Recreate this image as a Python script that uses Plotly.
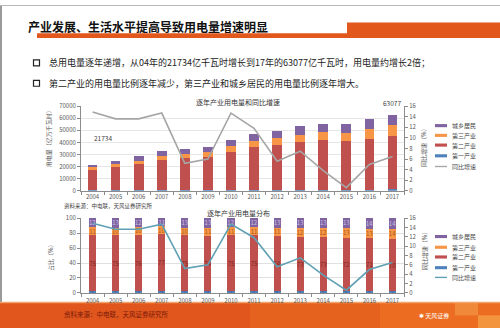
import plotly.graph_objects as go

# ---------------- data ----------------
years = [str(y) for y in range(2004, 2018)]

# electricity use by sector (亿千瓦时)
primary_use = [810, 850, 830, 880, 880, 940, 980, 1010, 1010, 1010, 990, 1020, 1080, 1160]
secondary_use = [16260, 18480, 21370, 24630, 25920, 27090, 31320, 35190, 36670, 39140, 40650, 40050, 42110, 44410]
tertiary_use = [2310, 2470, 2820, 3180, 3500, 3940, 4500, 5080, 5690, 6270, 6660, 7160, 7960, 8810]
resident_use = [2354, 3140, 3568, 4022, 4241, 4625, 5123, 5648, 6221, 6803, 6933, 7270, 8048, 8697]

# year-on-year growth of total use (%)
growth = [14.9, 13.6, 13.6, 14.7, 5.2, 6.0, 14.7, 11.8, 5.6, 7.5, 3.8, 0.6, 5.0, 6.5]

# sector shares (%)
share_primary = [2, 2, 2, 2, 2, 2, 2, 2, 2, 2, 2, 2, 2, 2]
share_secondary = [75, 75, 76, 77, 75, 74, 75, 75, 74, 73, 73, 72, 71, 70]
share_tertiary = [11, 10, 10, 10, 10, 11, 11, 11, 11, 12, 12, 13, 13, 14]
share_resident = [12, 13, 12, 11, 13, 13, 12, 12, 13, 13, 13, 13, 14, 14]

sector_names = ["第一产业", "第二产业", "第三产业", "城乡居民"]
sector_colors = ["#4f81bd", "#c0504d", "#f79646", "#8064a2"]
label_colors = ["#3a5f8f", "#7a2622", "#a85a1c", "#c9bde0"]
label_sizes = [5, 6, 6, 6]

W, H = 500, 332
FONT = "Noto Sans CJK SC, Liberation Sans, sans-serif"
TICK = "#595959"


def px(x):
    return x / W


def py(y):
    return 1 - y / H


fig = go.Figure()

# ---------- chart 1: absolute use + growth ----------
for name, vals, col in zip(sector_names,
                           [primary_use, secondary_use, tertiary_use, resident_use],
                           sector_colors):
    fig.add_trace(go.Bar(x=years, y=vals, name=name, marker_color=col,
                         marker_line_width=0, width=0.42,
                         xaxis="x", yaxis="y", showlegend=False))
fig.add_trace(go.Scatter(x=years, y=growth, mode="lines", name="同比增速",
                         line=dict(color="#a6a6a6", width=1.6),
                         xaxis="x", yaxis="y2", showlegend=False))

# ---------- chart 2: shares + growth ----------
for name, vals, col, lc, ls in zip(sector_names,
                                   [share_primary, share_secondary, share_tertiary, share_resident],
                                   sector_colors, label_colors, label_sizes):
    fig.add_trace(go.Bar(x=years, y=vals, name=name, marker_color=col,
                         marker_line_width=0, width=0.31,
                         text=vals, texttemplate="%{text}", textposition="inside",
                         insidetextanchor="middle", textangle=0, constraintext="none",
                         textfont=dict(size=ls, color=lc, family=FONT),
                         xaxis="x2", yaxis="y3", showlegend=False))
fig.add_trace(go.Scatter(x=years, y=growth, mode="lines", name="同比增速",
                         line=dict(color="#5fa0b4", width=1.6),
                         xaxis="x2", yaxis="y4", showlegend=False))

# ---------- axes ----------
x_dom = [px(81), px(404)]
x_range = [-0.5, len(years) - 0.5]
axis_common = dict(showline=True, linecolor="#8c8c8c", linewidth=1,
                   ticks="outside", ticklen=3, tickcolor="#8c8c8c",
                   tickfont=dict(size=6, color=TICK, family=FONT), zeroline=False)

fig.update_layout(
    xaxis=dict(domain=x_dom, anchor="y", type="category", tickson="boundaries",
               range=x_range, tickangle=0, showgrid=False, **axis_common),
    yaxis=dict(domain=[py(191), py(104)], anchor="x", range=[0, 70000], dtick=10000,
               tickformat="d", showgrid=True, gridcolor="#e6e6e6", gridwidth=0.6,
               **axis_common),
    yaxis2=dict(overlaying="y", anchor="x", side="right", range=[0, 16], dtick=2,
                showgrid=False, **axis_common),
    xaxis2=dict(domain=x_dom, anchor="y3", type="category", tickson="boundaries",
                range=x_range, tickangle=0, showgrid=False, ticklabelstandoff=2,
                **axis_common),
    yaxis3=dict(domain=[py(296), py(219)], anchor="x2", range=[0, 100], dtick=20,
                showgrid=True, gridcolor="#e0e0e0", gridwidth=0.6, **axis_common),
    yaxis4=dict(overlaying="y3", anchor="x2", side="right", range=[0, 16], dtick=2,
                showgrid=False, **axis_common),
    barmode="stack",
    width=W, height=H,
    margin=dict(l=0, r=0, t=0, b=0),
    paper_bgcolor="white", plot_bgcolor="white",
    font=dict(family=FONT, color="#333333"),
    showlegend=False,
)

shapes = []
ann = []


def rect(x0, y0, x1, y1, color, layer="below"):
    shapes.append(dict(type="rect", xref="paper", yref="paper",
                       x0=px(x0), x1=px(x1), y0=py(y1), y1=py(y0),
                       fillcolor=color, line=dict(width=0), layer=layer))


def text(x, y, s, size, color="#333333", anchor="left", angle=0, bold=False):
    ann.append(dict(xref="paper", yref="paper", x=px(x), y=py(y),
                    text=f"<b>{s}</b>" if bold else s, showarrow=False,
                    xanchor=anchor, yanchor="middle", textangle=angle,
                    font=dict(size=size, color=color, family=FONT)))


# slide frame
rect(0, 0, 2, 332, "#9a9a9a")
rect(0, 0, 500, 1, "#b8b8b8")

# header
text(26, 22, "产业发展、生活水平提高导致用电量增速明显", 12, "#111111", bold=True)
rect(37, 29, 500, 34, "#e2571c")
rect(347, 18, 500, 34, "#e2571c")

# bullets
for yb, s in [(59.5, "总用电量逐年递增，从04年的21734亿千瓦时增长到17年的63077亿千瓦时，用电量约增长2倍；"),
              (80.5, "第二产业的用电量比例逐年减少，第三产业和城乡居民的用电量比例逐年增大。")]:
    shapes.append(dict(type="rect", xref="paper", yref="paper",
                       x0=px(33.5), x1=px(39.5), y0=py(yb + 3), y1=py(yb - 3),
                       line=dict(color="#222222", width=1.2), fillcolor="white"))
    text(47, yb, s, 9, "#222222")

# chart titles
text(238, 99.5, "逐年产业用电量和同比增速", 7, "#333333", anchor="center")
text(238, 213.5, "逐年产业用电量分布", 7, "#333333", anchor="center")

# axis titles
text(48, 136, "用电量（亿万千瓦时）", 6, "#555555", anchor="center", angle=-90)
text(423, 145, "同比增速（%）", 6, "#555555", anchor="center", angle=-90)
text(50, 258, "占比（%）", 6, "#555555", anchor="center", angle=-90)
text(424, 251, "同比增速（%）", 6, "#555555", anchor="center", angle=-90)

# source notes
text(62, 207, "资料来源：中电联，天风证券研究所", 5.5, "#444444")

# totals on the first chart (placed by category index)
totals = [a + b + c + d for a, b, c, d in zip(primary_use, secondary_use, tertiary_use, resident_use)]
for i, dy, dx in [(0, 27, 10), (len(years) - 1, 12, 0)]:
    ann.append(dict(xref="x", yref="y", x=i, y=totals[i], text=str(totals[i]),
                    showarrow=False, yshift=dy, xshift=dx,
                    font=dict(size=6.5, color="#444444", family=FONT)))

# legends
legend_items = list(zip(["城乡居民", "第三产业", "第二产业", "第一产业"],
                        ["#8064a2", "#f79646", "#c0504d", "#4f81bd"]))
for ys, line_col in [([124, 134, 144, 155, 166], "#a6a6a6"),
                     ([238, 249, 259, 270, 280], "#5fa0b4")]:
    for (name, col), yy in zip(legend_items, ys[:4]):
        rect(435, yy - 1.6, 447, yy + 1.6, col, layer="above")
        text(450, yy, name, 6, "#444444")
    rect(435, ys[4] - 0.7, 447, ys[4] + 0.7, line_col, layer="above")
    text(450, ys[4], "同比增速", 6, "#444444")

# footer band
rect(0, 306, 500, 332, "#e0561c")
rect(250, 306, 380, 332, "#e5611e")
rect(380, 306, 500, 332, "#ec6d22")
rect(455, 306, 478, 319, "#f08a3a")
rect(478, 319, 500, 332, "#f3953f")
rect(0, 305, 500, 306.5, "#f2a46a")
text(62, 318, "资料来源：中电联，天风证券研究所", 6.5, "#7a1a0c")
text(434, 319.5, "✱ 天风证券", 6, "#ffffff", anchor="center")

fig.update_layout(shapes=shapes, annotations=ann)
fig.write_html("out.html")
